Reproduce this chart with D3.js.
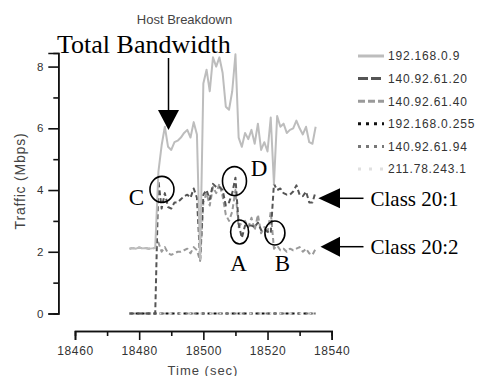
<!DOCTYPE html>
<html>
<head>
<meta charset="utf-8">
<script src="https://cdn.jsdelivr.net/npm/d3@7"></script>
<style>
  html, body { margin: 0; padding: 0; background: #fff; }
  svg { display: block; }
  .sans { font-family: "Liberation Sans", Arial, sans-serif; }
  .serif { font-family: "Liberation Serif", "Times New Roman", serif; }
</style>
</head>
<body>
<svg id="chart" width="478" height="376"></svg>
<script>
// Sample times (seconds)
const times = [
  18477, 18478, 18479, 18480, 18481, 18482, 18483, 18484, 18485,
  18486, 18487, 18488, 18489, 18490, 18491, 18492, 18493, 18494, 18495, 18496, 18497, 18498, 18499,
  18500, 18501, 18502, 18503, 18504, 18505, 18506, 18507, 18508, 18509, 18510,
  18511, 18512, 18513, 18514, 18515, 18516, 18517, 18518, 18519, 18520, 18521, 18522,
  18523, 18524, 18525, 18526, 18527, 18528, 18529, 18530, 18531, 18532, 18533, 18534, 18535
];

// Traffic per host (Mbps)
const host_192_168_0_9 = [
  2.10, 2.12, 2.10, 2.14, 2.11, 2.12, 2.10, 2.11, 2.12,
  4.60, 5.45, 6.05, 5.40, 5.30, 5.55, 5.60, 5.70, 5.85, 5.95, 5.70, 6.20, 5.80, 1.75,
  7.45, 7.90, 7.20, 8.30, 8.00, 8.30, 7.80, 6.70, 6.60, 7.20, 8.40,
  5.70, 5.40, 5.85, 5.65, 5.95, 5.50, 6.15, 5.30, 5.55, 5.25, 6.35, 4.20,
  6.40, 6.05, 6.15, 5.85, 5.95, 6.00, 6.25, 6.00, 5.80, 6.05, 5.55, 5.50, 6.05
];
const host_140_92_61_20 = [
  0, 0, 0, 0, 0, 0, 0, 0, 0,
  4.30, 3.40, 3.90, 3.45, 3.40, 3.60, 3.60, 3.70, 3.80, 3.85, 3.75, 4.05, 3.75, 1.75,
  3.85, 4.00, 3.70, 4.20, 4.10, 4.10, 4.00, 3.50, 3.60, 3.90, 4.40,
  2.90, 2.45, 2.85, 2.85, 2.85, 2.80, 2.95, 2.70, 2.75, 2.65, 2.60, 4.20,
  4.00, 4.05, 3.90, 3.85, 3.85, 3.95, 4.15, 3.85, 3.80, 3.95, 3.60, 3.60, 3.95
];
const host_140_92_61_40 = [
  2.10, 2.12, 2.10, 2.14, 2.11, 2.12, 2.10, 2.11, 2.12,
  2.30, 2.00, 2.15, 1.95, 1.90, 1.95, 2.00, 2.00, 2.05, 2.10, 1.95, 2.15, 2.05, 1.70,
  3.60, 3.90, 3.50, 4.10, 3.90, 4.20, 3.80, 3.20, 3.00, 3.30, 4.00,
  2.80, 2.95, 3.00, 2.80, 3.10, 2.70, 3.20, 2.60, 2.80, 2.60, 3.30, 2.10,
  2.20, 2.05, 2.10, 2.00, 2.10, 2.05, 2.10, 2.15, 2.00, 2.10, 1.95, 1.90, 2.10
];
const host_192_168_0_255 = [
  0, 0, 0, 0, 0, 0, 0, 0, 0,
  0, 0, 0, 0, 0, 0, 0, 0, 0, 0, 0, 0, 0, 0,
  0, 0, 0, 0, 0, 0, 0, 0, 0, 0, 0,
  0, 0, 0, 0, 0, 0, 0, 0, 0, 0, 0, 0,
  0, 0, 0, 0, 0, 0, 0, 0, 0, 0, 0, 0, 0
];
const host_140_92_61_94 = [
  0, 0, 0, 0, 0, 0, 0, 0, 0,
  0, 0, 0, 0, 0, 0, 0, 0, 0, 0, 0, 0, 0, 0,
  0, 0, 0, 0, 0, 0, 0, 0, 0, 0, 0,
  0, 0, 0, 0, 0, 0, 0, 0, 0, 0, 0, 0,
  0, 0, 0, 0, 0, 0, 0, 0, 0, 0, 0, 0, 0
];
const host_211_78_243_1 = [
  0, 0, 0, 0, 0, 0, 0, 0, 0,
  0, 0, 0, 0, 0, 0, 0, 0, 0, 0, 0, 0, 0, 0,
  0, 0, 0, 0, 0, 0, 0, 0, 0, 0, 0,
  0, 0, 0, 0, 0, 0, 0, 0, 0, 0, 0, 0,
  0, 0, 0, 0, 0, 0, 0, 0, 0, 0, 0, 0, 0
];

const hostNames = ["192.168.0.9", "140.92.61.20", "140.92.61.40", "192.168.0.255", "140.92.61.94", "211.78.243.1"];
const xMajorTicks = [18460, 18480, 18500, 18520, 18540];
const xMinorTicks = [18470, 18490, 18510, 18530];
const yMajorTicks = [0, 2, 4, 6, 8];
const yMinorTicks = [1, 3, 5, 7];

// Annotated points: [label, time, value]
const marks = [["C", 18487.1, 4.02], ["D", 18509.7, 4.29], ["A", 18511.3, 2.64], ["B", 18522.3, 2.61]];

const series = [
  { name: hostNames[3], values: host_192_168_0_255, color: "#111", width: 2, dash: "3,3" },
  { name: hostNames[4], values: host_140_92_61_94, color: "#777", width: 2, dash: "3,5" },
  { name: hostNames[5], values: host_211_78_243_1, color: "#e2e2e2", width: 2, dash: "2,8" },
  { name: hostNames[2], values: host_140_92_61_40, color: "#9a9a9a", width: 2, dash: "5,3" },
  { name: hostNames[1], values: host_140_92_61_20, color: "#555", width: 2, dash: "5,3" },
  { name: hostNames[0], values: host_192_168_0_9, color: "#bdbdbd", width: 2, dash: null }
];
const legendStyle = {
  "192.168.0.9":   { color: "#bdbdbd", dash: null },
  "140.92.61.20":  { color: "#555", dash: "10,3" },
  "140.92.61.40":  { color: "#9a9a9a", dash: "7,3" },
  "192.168.0.255": { color: "#111", dash: "3,5" },
  "140.92.61.94":  { color: "#777", dash: "3,5" },
  "211.78.243.1":  { color: "#e0e0e0", dash: "3,8" }
};

const svg = d3.select("#chart");

const x = d3.scaleLinear().domain([18460, 18540]).range([75, 331.7]);
const y = d3.scaleLinear().domain([0, 8.44]).range([313.5, 53]);

// Title
svg.append("text").attr("class", "sans")
  .attr("x", 184.5).attr("y", 24).attr("text-anchor", "middle")
  .attr("font-size", 13).attr("fill", "#444").text("Host Breakdown");

// Y axis (separate minor and major ticks)
const yAxisG = svg.append("g").attr("transform", "translate(58.3,0)");
yAxisG.append("g").call(d3.axisLeft(y).tickValues(yMinorTicks).tickSize(5).tickFormat(""));
yAxisG.append("g").call(d3.axisLeft(y).tickValues(yMajorTicks).tickSize(10).tickPadding(5).tickFormat(d3.format("d")));
yAxisG.selectAll("path.domain").attr("stroke", "#111").attr("stroke-width", 1.6);
yAxisG.selectAll(".tick line").attr("stroke", "#111").attr("stroke-width", 1.6);
yAxisG.selectAll("text").attr("class", "sans").attr("font-size", 11.5).attr("fill", "#333");

svg.append("text").attr("class", "sans")
  .attr("transform", "translate(25,181) rotate(-90)")
  .attr("text-anchor", "middle").attr("font-size", 14).attr("letter-spacing", 0.8)
  .attr("fill", "#444").text("Traffic (Mbps)");

// X axis
const xAxisG = svg.append("g").attr("transform", "translate(0,331)");
xAxisG.append("g").call(d3.axisBottom(x).tickValues(xMinorTicks).tickSize(5).tickFormat(""));
xAxisG.append("g").call(d3.axisBottom(x).tickValues(xMajorTicks).tickSize(9).tickPadding(6.5).tickFormat(d3.format("d")));
xAxisG.selectAll("path.domain").attr("stroke", "#111").attr("stroke-width", 1.6);
xAxisG.selectAll(".tick line").attr("stroke", "#111").attr("stroke-width", 1.6);
xAxisG.selectAll("text").attr("class", "sans").attr("font-size", 12).attr("letter-spacing", 0.6).attr("fill", "#333");

svg.append("text").attr("class", "sans")
  .attr("x", 203).attr("y", 374.5).attr("text-anchor", "middle")
  .attr("font-size", 13).attr("letter-spacing", 1).attr("fill", "#444").text("Time (sec)");

// Series lines
const line = d3.line().x((d, i) => x(times[i])).y(d => y(d));
svg.append("g").selectAll("path").data(series).join("path")
  .attr("d", s => line(s.values))
  .attr("fill", "none")
  .attr("stroke", s => s.color)
  .attr("stroke-width", s => s.width)
  .attr("stroke-dasharray", s => s.dash)
  .attr("stroke-linejoin", "round");

// Legend
const legend = svg.append("g");
hostNames.forEach((name, i) => {
  const yy = 56 + i * 22.6;
  const st = legendStyle[name];
  legend.append("line").attr("x1", 358).attr("x2", 384).attr("y1", yy).attr("y2", yy)
    .attr("stroke", st.color).attr("stroke-width", 3).attr("stroke-dasharray", st.dash);
  legend.append("text").attr("class", "sans").attr("x", 388).attr("y", yy + 4.3)
    .attr("font-size", 12).attr("letter-spacing", 0.8).attr("fill", "#333").text(name);
});

// Annotations
const ann = svg.append("g");
ann.append("text").attr("class", "serif").attr("x", 57).attr("y", 53)
  .attr("font-size", 26).attr("fill", "#000").text("Total Bandwidth");
ann.append("line").attr("x1", 168.5).attr("x2", 168.5).attr("y1", 58).attr("y2", 112)
  .attr("stroke", "#000").attr("stroke-width", 1.5);
ann.append("path").attr("d", "M158,110 L179,110 L168.5,130 Z").attr("fill", "#000");

const ellipseSize = { C: [12, 13], D: [12, 14.5], A: [9, 12], B: [10, 12] };
const letterPos = { C: [136.5, 204.5], D: [259, 175.5], A: [238.5, 270.5], B: [282.5, 270.5] };
marks.forEach(([lab, t, v]) => {
  ann.append("ellipse").attr("cx", x(t)).attr("cy", y(v))
    .attr("rx", ellipseSize[lab][0]).attr("ry", ellipseSize[lab][1])
    .attr("fill", "none").attr("stroke", "#000").attr("stroke-width", 1.6);
  ann.append("text").attr("class", "serif")
    .attr("x", letterPos[lab][0]).attr("y", letterPos[lab][1])
    .attr("text-anchor", "middle").attr("font-size", 23).attr("fill", "#000").text(lab);
});

[["Class 20:1", 198.3, 318.3, 206], ["Class 20:2", 246.7, 320.5, 254]].forEach(([txt, cy, tip, base]) => {
  ann.append("path").attr("d", `M${tip},${cy} L340,${cy - 10} L340,${cy + 10} Z`).attr("fill", "#000");
  ann.append("line").attr("x1", 338).attr("x2", 363.5).attr("y1", cy).attr("y2", cy)
    .attr("stroke", "#000").attr("stroke-width", 1.5);
  ann.append("text").attr("class", "serif").attr("x", 370.5).attr("y", base)
    .attr("font-size", 21).attr("fill", "#000").text(txt);
});
</script>
</body>
</html>
